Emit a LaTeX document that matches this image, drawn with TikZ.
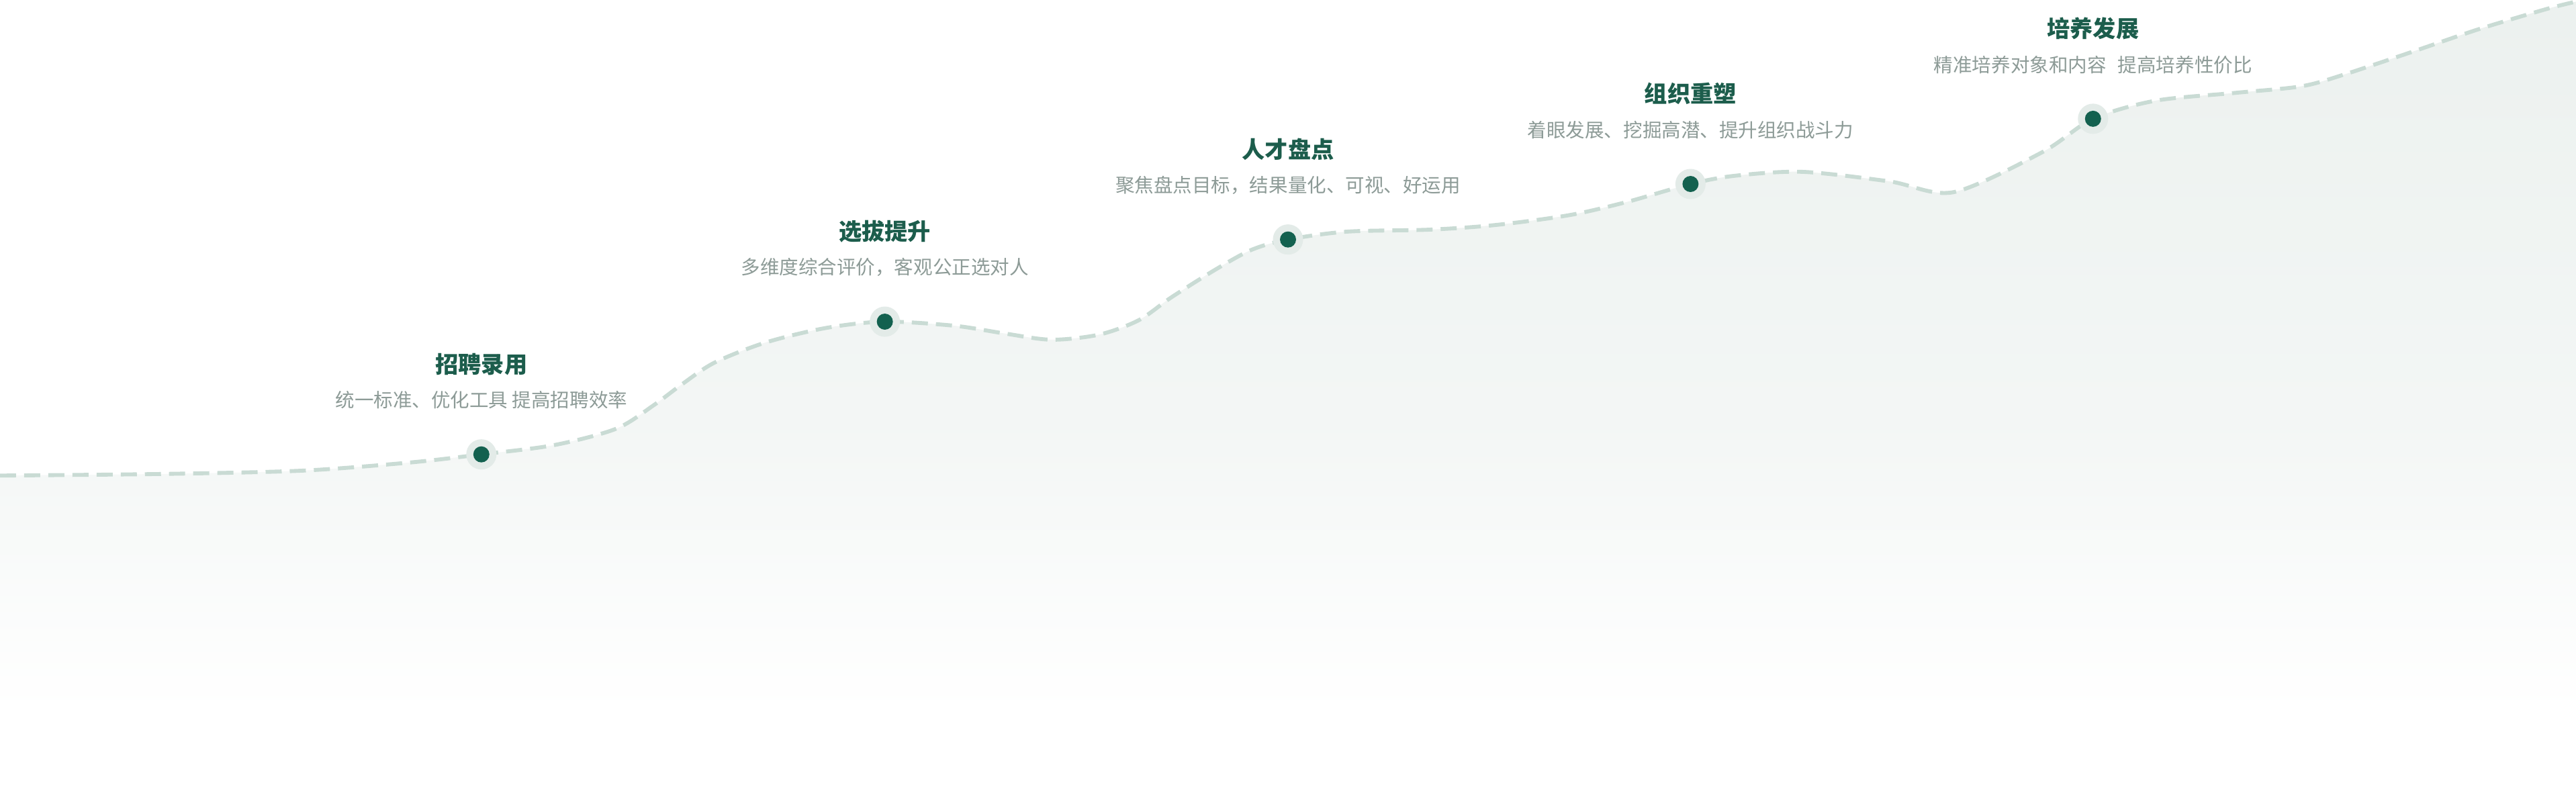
\documentclass[tikz,border=0pt]{standalone}
\usepackage{fontspec}
\newfontfamily\cjk{Noto Sans CJK SC}
\usetikzlibrary{positioning}

\definecolor{couleurpoint}{HTML}{13614F}
\definecolor{couleurhalo}{HTML}{E3EBE8}
\definecolor{couleurtitre}{HTML}{1C5D4C}
\definecolor{couleurtexte}{HTML}{8D9B97}
\definecolor{couleurligne}{HTML}{C9DBD4}
\definecolor{couleurfond}{HTML}{E5ECE9}
\pgfdeclareverticalshading{fondcourbe}{100bp}{color(0bp)=(white); color(30bp)=(white); color(48bp)=(couleurfond!45!white); color(100bp)=(couleurfond)}
\newcommand{\tracecourbe}{plot[smooth, tension=0.5] coordinates {(0,289.5) (100,288.5) (184,286.5) (250,281.5) (embauche) (337,271) (375,261) (398,246.6) (415,234) (435,220.7) (466,208.5) (503,199.6) (selectio) (581,198.3) (611.5,203) (640,206.8) (669,203.7) (693,195) (713,181) (740,164) (762,152) (bilantal) (820,141) (870,139.8) (910,137) (955,131) (990,123) (restruct) (1056,107) (1097,104.6) (1150,110.4) (1189,117) (1243,92.7) (formatio) (1312,61.3) (1361,56.5) (1401,52.5) (1428,45) (1469,31.3) (1509,17.7) (1550,5.5) (1568,1)}}
\newcommand{\etape}[3]{
	\node[halo] at (#1) {};
	\node[point] (#1pt) at (#1) {};
	\node[texte, above=1.65cm of #1, anchor=center] (#1txt) {#3};
	\node[titre, above=1.1cm of #1txt.center, anchor=center] (#1tit) {#2};}
\tikzset{
		basic/.style={inner sep=0pt, align=center},
		titre/.style={basic, font=\cjk\bfseries\fontsize{19.9}{22}\selectfont, text=couleurtitre},
		texte/.style={basic, font=\cjk\fontsize{16.6}{20}\selectfont, text=couleurtexte},
		point/.style={circle, fill=couleurpoint, minimum size=0.49cm, inner sep=0pt},
		halo/.style={circle, fill=couleurhalo, minimum size=0.92cm, inner sep=0pt},
		courbe/.style={couleurligne, line width=3.4pt, dash pattern=on 0.49cm off 0.245cm}
	}

\begin{document}
\begin{tikzpicture}[x=0.05cm, y=-0.05cm]
		\useasboundingbox[fill=white] (0,0) rectangle (1568,481.5);
		% etapes
		\coordinate (embauche) at (293,276.6);
		\coordinate (selectio) at (538.6,195.8);
		\coordinate (bilantal) at (784,145.8);
		\coordinate (restruct) at (1029,112);
		\coordinate (formatio) at (1274,72.3);
		
		% fond et courbe
		\shade[shading=fondcourbe] \tracecourbe -- (1568,481.5) -- (0,481.5) -- cycle;
		\draw[courbe] \tracecourbe;
		
		% points et textes
		\etape{embauche}{招聘录用}{统一标准、优化工具 提高招聘效率}
		\etape{selectio}{选拔提升}{多维度综合评价，客观公正选对人}
		\etape{bilantal}{人才盘点}{聚焦盘点目标，结果量化、可视、好运用}
		\etape{restruct}{组织重塑}{着眼发展、挖掘高潜、提升组织战斗力}
		\etape{formatio}{培养发展}{精准培养对象和内容\hspace{0.6em}提高培养性价比}
	\end{tikzpicture}
\end{document}
